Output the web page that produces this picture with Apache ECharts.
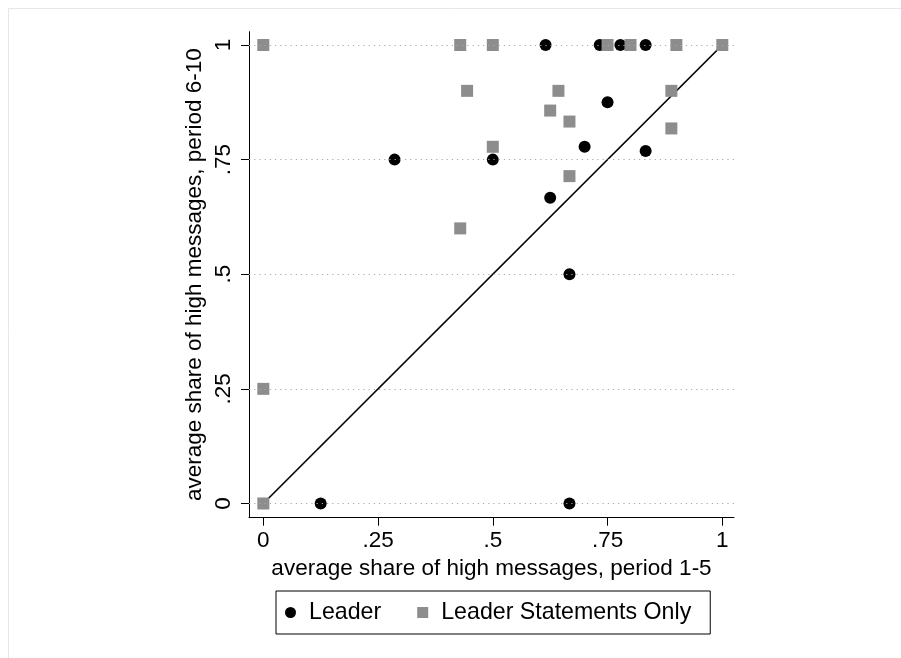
<!DOCTYPE html>
<html>
<head>
<meta charset="utf-8">
<script src="https://cdn.jsdelivr.net/npm/echarts@6/dist/echarts.min.js"></script>
<style>
html,body{margin:0;padding:0;background:#fff;}
#chart{width:901px;height:658px;}
</style>
</head>
<body>
<div id="chart"></div>
<script>
// Leader: [period 1-5 share, period 6-10 share]
const leaderX = [0.615, 0.733, 0.778, 0.833, 0.75, 0.70, 0.833, 0.286, 0.50, 0.625, 0.667, 0.125, 0.667];
const leaderY = [1, 1, 1, 1, 0.875, 0.778, 0.769, 0.75, 0.75, 0.667, 0.5, 0, 0];
// Leader Statements Only
const stmtX = [0, 0.429, 0.50, 0.75, 0.80, 0.90, 1, 0.444, 0.643, 0.889, 0.625, 0.667, 0.889, 0.50, 0.667, 0.429, 0, 0];
const stmtY = [1, 1, 1, 1, 1, 1, 1, 0.9, 0.9, 0.9, 0.857, 0.833, 0.818, 0.778, 0.714, 0.6, 0.25, 0];
const tickValues = [0, 0.25, 0.5, 0.75, 1];
const tickLabels = ['0', '.25', '.5', '.75', '1'];
const diagX = [0, 1];
const diagY = [0, 1];

const FONT = "'Liberation Sans', Arial, Helvetica, sans-serif";
const FS = 22.5;
const fmt = v => { const i = tickValues.findIndex(t => Math.abs(t - v) < 1e-9); return i >= 0 ? tickLabels[i] : ''; };
const zip = (a, b) => a.map((v, i) => [v, b[i]]);

const chart = echarts.init(document.getElementById('chart'), null, {renderer: 'canvas'});
chart.setOption({
  animation: false,
  backgroundColor: '#ffffff',
  textStyle: {fontFamily: FONT},
  graphic: [{
    type: 'rect', silent: true, z: -10,
    shape: {x: 8.5, y: 8.5, width: 1000, height: 1000},
    style: {fill: 'none', stroke: '#e3e9e9', lineWidth: 1}
  }],
  grid: {left: 249, top: 31.7, right: 167, bottom: 140.3, containLabel: false},
  xAxis: {
    type: 'value', min: -0.0312, max: 1.0255,
    axisLine: {show: true, onZero: false, lineStyle: {color: '#000', width: 1}},
    axisTick: {show: true, customValues: tickValues, length: 8, lineStyle: {color: '#000', width: 1}},
    axisLabel: {customValues: tickValues, formatter: fmt, color: '#000', fontSize: FS, fontFamily: FONT, margin: 12},
    splitLine: {show: false},
    name: 'average share of high messages, period 1-5',
    nameLocation: 'middle', nameGap: 40, nameMoveOverlap: false,
    nameTextStyle: {color: '#000', fontSize: FS, fontFamily: FONT}
  },
  yAxis: {
    type: 'value', min: -0.031, max: 1.029,
    axisLine: {show: true, onZero: false, lineStyle: {color: '#000', width: 1}},
    axisTick: {show: true, customValues: tickValues, length: 8, lineStyle: {color: '#000', width: 1}},
    axisLabel: {customValues: tickValues, formatter: fmt, color: '#000', fontSize: FS, fontFamily: FONT, rotate: 90, margin: 13.5},
    splitLine: {show: false},
    name: 'average share of high messages, period 6-10',
    nameLocation: 'middle', nameGap: 43, nameMoveOverlap: false,
    nameTextStyle: {color: '#000', fontSize: FS, fontFamily: FONT}
  },
  legend: {
    left: 276, top: 591,
    orient: 'horizontal',
    padding: [10, 19, 10, 9],
    borderColor: '#000', borderWidth: 1,
    itemWidth: 11, itemHeight: 11, itemGap: 36,
    textStyle: {color: '#000', fontSize: 23.2, fontFamily: FONT, padding: [0, 0, 0, 8]},
    data: [
      {name: 'Leader', icon: 'circle'},
      {name: 'Leader Statements Only', icon: 'rect'}
    ]
  },
  series: [
    {
      name: 'grid', type: 'line', data: [], silent: true, z: 1,
      markLine: {
        silent: true, symbol: 'none', animation: false,
        label: {show: false},
        lineStyle: {color: '#a8a8a8', type: [1.2, 4], width: 1},
        data: tickValues.map(v => ({yAxis: v}))
      }
    },
    {
      name: 'diag', type: 'line', data: zip(diagX, diagY), z: 2,
      symbol: 'none', silent: true,
      lineStyle: {color: '#000', width: 1.7}
    },
    {
      name: 'Leader', type: 'scatter', data: zip(leaderX, leaderY), z: 3,
      symbol: 'circle', symbolSize: 12,
      itemStyle: {color: '#000', opacity: 1}
    },
    {
      name: 'Leader Statements Only', type: 'scatter', data: zip(stmtX, stmtY), z: 4,
      symbol: 'rect', symbolSize: 12,
      itemStyle: {color: '#8d8d8d', opacity: 1}
    }
  ]
});
</script>
</body>
</html>
